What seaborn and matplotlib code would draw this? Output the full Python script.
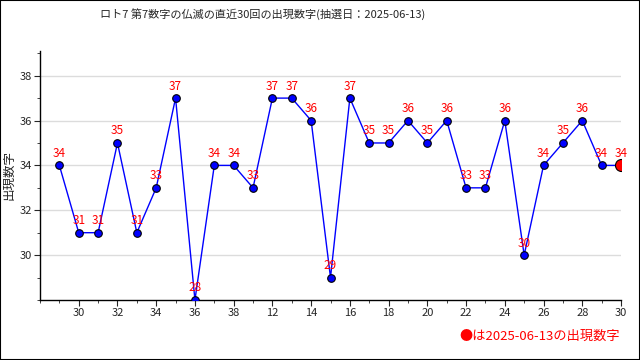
import matplotlib
matplotlib.use('Agg')
import matplotlib.pyplot as plt
import seaborn as sns
import pandas as pd
from matplotlib.ticker import MultipleLocator

# 直近30回の出現数字
draw_index = list(range(1, 31))
numbers = [34, 31, 31, 35, 31, 33, 37, 28, 34, 34, 33, 37, 37, 36, 29,
           37, 35, 35, 36, 35, 36, 33, 33, 36, 30, 34, 35, 36, 34, 34]
tick_pos = [2, 4, 6, 8, 10, 12, 14, 16, 18, 20, 22, 24, 26, 28, 30]
tick_labels = ['30', '32', '34', '36', '38', '12', '14', '16', '18', '20',
               '22', '24', '26', '28', '30']

df = pd.DataFrame({'idx': draw_index, 'num': numbers})

sns.set_style('white')
plt.rcParams['font.family'] = ['Noto Sans CJK JP', 'DejaVu Sans']

fig = plt.figure(figsize=(6.4, 3.6), dpi=100)
ax = fig.add_axes([40 / 640, 60 / 360, 581 / 640, 249 / 360])

ax.grid(axis='y', color='#dcdcdc', linewidth=1)
ax.set_axisbelow(True)

sns.lineplot(data=df, x='idx', y='num', color='blue', linewidth=1, ax=ax)
sns.scatterplot(data=df.iloc[:-1], x='idx', y='num', color='blue',
                edgecolor='black', s=30, linewidth=0.8, zorder=3, ax=ax)
sns.scatterplot(data=df.iloc[-1:], x='idx', y='num', color='red',
                edgecolor='black', s=75, linewidth=0.8, zorder=4, ax=ax)

for x, y in zip(draw_index, numbers):
    ax.annotate(str(y), (x, y), xytext=(0, 4), textcoords='offset points',
                ha='center', va='bottom', color='red', fontsize=8.5)

ax.set_xlim(0, 30)
ax.set_ylim(28, 39.1)
ax.set_xticks(tick_pos)
ax.set_xticklabels(tick_labels, fontsize=8)
ax.xaxis.set_minor_locator(MultipleLocator(1))
ax.set_yticks([30, 32, 34, 36, 38])
ax.yaxis.set_minor_locator(MultipleLocator(1))
ax.tick_params(axis='both', which='major', length=4, direction='out', labelsize=8,
               bottom=True, left=True, pad=1.5)
ax.tick_params(axis='both', which='minor', length=2.5, direction='out',
               bottom=True, left=True)
ax.set_xlabel('')
ax.set_ylabel('出現数字', fontsize=9)
ax.yaxis.set_label_coords(-0.043, 0.5)

for s in ['top', 'right']:
    ax.spines[s].set_visible(False)
for s in ['left', 'bottom']:
    ax.spines[s].set_color('black')
    ax.spines[s].set_linewidth(1)

fig.text(100 / 640, 1 - 14 / 360, 'ロト7 第7数字の仏滅の直近30回の出現数字(抽選日：2025-06-13)',
         ha='left', va='center', fontsize=8)
fig.text(620 / 640, 1 - 336 / 360, '●は2025-06-13の出現数字', color='red',
         ha='right', va='center', fontsize=9.5)

fig.patches.append(plt.Rectangle((0, 0), 1, 1, transform=fig.transFigure,
                                 fill=False, edgecolor='black', linewidth=1.5))

fig.savefig('out.png', dpi=100)
